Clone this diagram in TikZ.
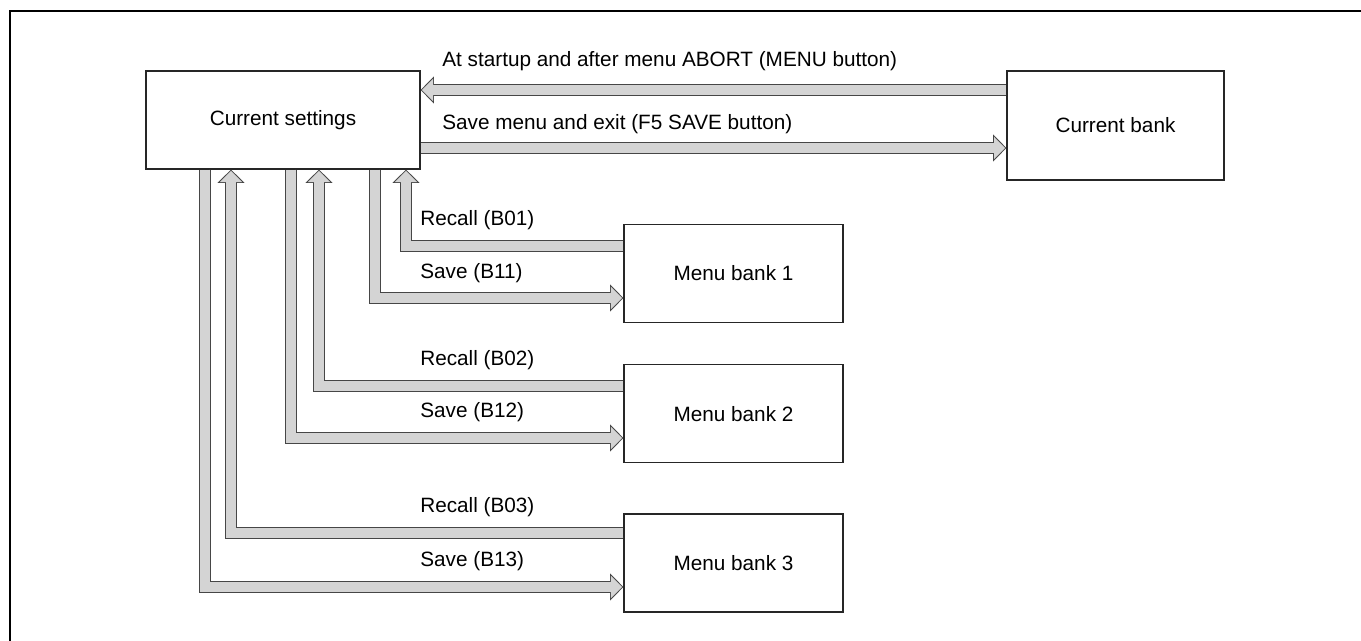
\documentclass[tikz,border=0pt]{standalone}
\usepackage{fontspec}
\setmainfont{Liberation Sans}
\usepackage{tikz}
\usetikzlibrary{positioning, arrows.meta}
\definecolor{bandfill}{RGB}{212,212,212}
\definecolor{bandline}{RGB}{70,70,70}
\tikzstyle{box} = [draw=black!85, line width=0.7pt, minimum width=4.38cm, minimum height=1.96cm, inner sep=0pt]
\tikzstyle{lbl} = [anchor=west, inner sep=0pt]
\tikzstyle{bandout} = [line width=7.2pt, draw=bandline, -{Triangle[width=15.5pt,length=7.6pt,line width=0pt]}]
\tikzstyle{bandin} = [line width=6.1pt, draw=bandfill, shorten >=0.77pt, -{Triangle[width=12.8pt,length=6.3pt,line width=0pt]}]
\newcommand{\band}[1]{\draw[bandout] #1; \draw[bandin] #1;}

\begin{document}
\begin{tikzpicture}[x=0.02cm, y=0.02cm, font=\fontsize{11.8}{14}\selectfont]
    \useasboundingbox (0,0) rectangle (1361,641);
    \draw[line width=1.2pt] (10,0) -- (10,630) -- (1361,630);

    \node (cs) [box, minimum width=5.48cm] at (283,521) {Current settings};
    \node (cb) [box, minimum width=4.34cm, minimum height=2.18cm] at (1115.5,515.5) {Current bank};
    \node (mb1) [box] at (733.5,367.5) {Menu bank 1};
    \node (mb2) [box, below=0.82cm of mb1] {Menu bank 2};
    \node (mb3) [box, below=1cm of mb2] {Menu bank 3};

    % Edges
    \band{(cb.west |- 0,551) -- (cs.east |- 0,551)}
    \band{(cs.east |- 0,493) -- (cb.west |- 0,493)}
    \band{(mb1.west |- 0,395) -| (cs.south -| 406,0)}
    \band{(cs.south -| 375,0) |- (mb1.west |- 0,343)}
    \band{(mb2.west |- 0,255) -| (cs.south -| 319,0)}
    \band{(cs.south -| 291,0) |- (mb2.west |- 0,203)}
    \band{(mb3.west |- 0,108) -| (cs.south -| 231,0)}
    \band{(cs.south -| 205,0) |- (mb3.west |- 0,54)}

    % Labels
    \node (labort) [lbl] at (442,580) {At startup and after menu ABORT (MENU button)};
    \node (lsave) [lbl] at (442,517) {Save menu and exit (F5 SAVE button)};
    \node (lr1) [lbl] at (420,421) {Recall (B01)};
    \node (ls1) [lbl] at (420,368) {Save (B11)};
    \node (lr2) [lbl] at (420,281) {Recall (B02)};
    \node (ls2) [lbl] at (420,229) {Save (B12)};
    \node (lr3) [lbl] at (420,134) {Recall (B03)};
    \node (ls3) [lbl] at (420,80) {Save (B13)};
\end{tikzpicture}
\end{document}
